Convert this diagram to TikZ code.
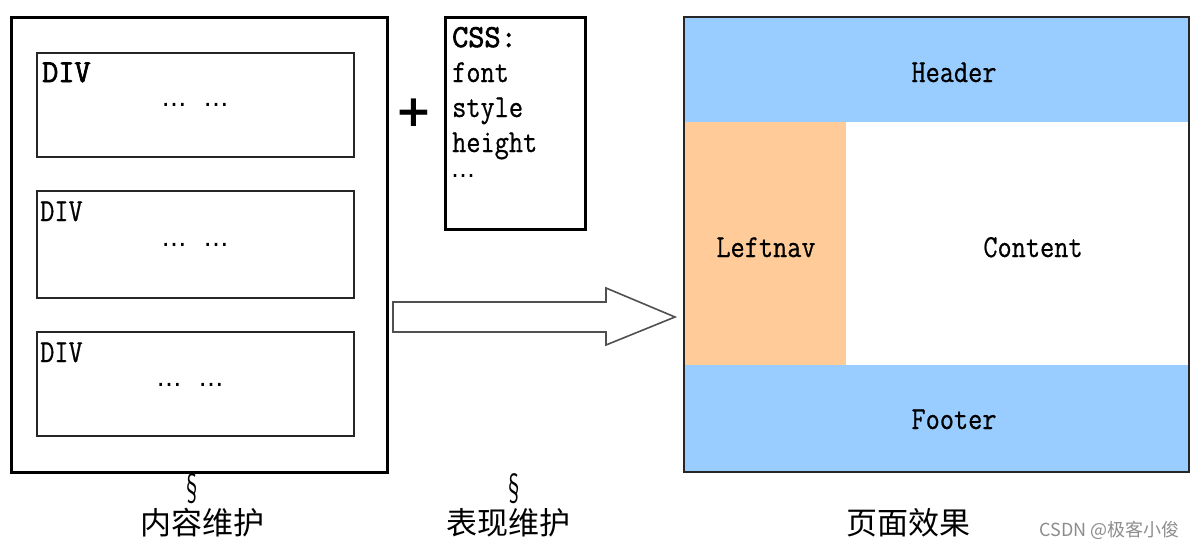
\documentclass[tikz,border=0pt]{standalone}
\usepackage{fontspec}
\usepackage{graphicx}
\newfontfamily\cjk{Noto Sans CJK SC}
\newfontfamily\dv{DejaVu Sans}
\newfontfamily\simmono[FakeStretch=0.86,FakeBold=0.6]{Latin Modern Mono}
\newfontfamily\simmonobold[FakeStretch=0.98,FakeBold=2.2]{Latin Modern Mono}
\definecolor{hdrblue}{HTML}{99CCFF}
\definecolor{navorange}{HTML}{FFCC99}
\definecolor{arrowgray}{HTML}{505050}
\begin{document}
\begin{tikzpicture}[x=1pt,y=-1pt,
  thickbox/.style={draw=black, line width=3pt, inner sep=0pt, anchor=north west},
  divbox/.style={draw=black!85, line width=1.6pt, inner sep=0pt, anchor=north west},
  mono/.style={font=\fontsize{32}{32}\selectfont\simmono, inner sep=0pt, anchor=base west},
  monob/.style={font=\fontsize{32}{32}\selectfont\simmonobold, inner sep=0pt, anchor=base west},
  dots/.style={font=\fontsize{25}{25}\selectfont\dv, inner sep=0pt},
  area/.style={inner sep=0pt, anchor=north west},
  cjklabel/.style={font=\fontsize{31}{31}\selectfont\cjk, inner sep=0pt},
  sect/.style={font=\fontsize{24}{24}\selectfont\cjk, inner sep=0pt}
]
\useasboundingbox (0,0) rectangle (1203,550);

% left: content structure
\node[thickbox, minimum width=376pt, minimum height=455pt] (outer) at (10,16) {};
\node[divbox, minimum width=317pt, minimum height=104pt] (div1) at (36,52) {};
\node[divbox, minimum width=317pt, minimum height=107pt] (div2) at (36,190) {};
\node[divbox, minimum width=317pt, minimum height=104pt] (div3) at (36,331) {};
\node[monob] (d1) at (42,82) {DIV};
\node[mono] (d2) at (40,221) {DIV};
\node[mono] (d3) at (40,362) {DIV};
\node[dots, anchor=base] (e1) at (195,106) {…\hspace{17pt}…};
\node[dots, anchor=base] (e2) at (195,246) {…\hspace{17pt}…};
\node[dots, anchor=base] (e3) at (190,386) {…\hspace{17pt}…};

% plus
\node[font=\fontsize{44}{44}\selectfont\dv\bfseries, inner sep=0pt] (plus) at (414,113) {+};

% CSS box
\node[thickbox, line width=2.6pt, minimum width=140pt, minimum height=212pt] (css) at (444,16) {};
\node[monob] (c0) at (452,47) {CSS:};
\node[mono] (c1) at (452,82) {font};
\node[mono] (c2) at (452,117) {style};
\node[mono] (c3) at (452,152) {height};
\node[dots, anchor=base west, font=\fontsize{24}{24}\selectfont\dv] (c4) at (451,177) {…};

% big arrow
\coordinate (arrS) at (393,287);
\draw[draw=arrowgray, line width=1.6pt, fill=white, line join=miter]
  ([yshift=-15pt]arrS) -- ++(213,0) -- ++(0,-14) -- ++(69,29) -- ++(-69,28)
  -- ++(0,-13) -- ++(-213,0) -- cycle;

% right: page effect
\node[area, fill=hdrblue, minimum width=505pt, minimum height=106pt] (header) at (683,16) {};
\node[area, fill=navorange, minimum width=163pt, minimum height=243pt] (leftnav) at (683,122) {};
\node[area, fill=white, minimum width=342pt, minimum height=243pt] (content) at (846,122) {};
\node[area, fill=hdrblue, minimum width=505pt, minimum height=106pt] (footer) at (683,365) {};
\node[draw=black!85, line width=1.6pt, inner sep=0pt, anchor=north west,
      minimum width=505pt, minimum height=455pt] (page) at (683,16) {};
\node[mono, anchor=base] (th) at (954,82) {Header};
\node[mono, anchor=base] (tl) at (766,257) {Leftnav};
\node[mono, anchor=base] (tc) at (1033,257) {Content};
\node[mono, anchor=base] (tf) at (954,429) {Footer};

% bottom labels
\node[sect] (s1) at (192,489) {\scalebox{0.8}[1.5]{§}};
\node[sect] (s2) at (514,489) {\scalebox{0.8}[1.5]{§}};
\node[cjklabel] (l1) at (202,523) {内容维护};
\node[cjklabel] (l2) at (508,523) {表现维护};
\node[cjklabel] (l3) at (908,523) {页面效果};
\node[font=\fontsize{18}{18}\selectfont\cjk, text=black!45, inner sep=0pt, anchor=east] (wm) at (1180,530) {CSDN @极客小俊};
\end{tikzpicture}
\end{document}
